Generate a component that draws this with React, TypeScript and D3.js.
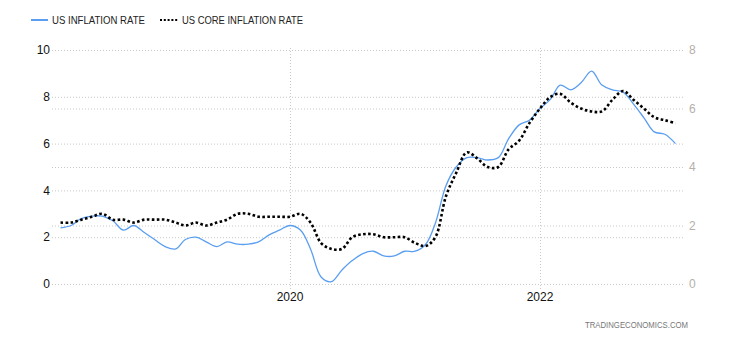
import React from "react";
import * as d3 from "d3";

const startYear = 2018;
const startMonth = 2; // March (0-based)

const inflation = [
  2.4, 2.5, 2.8, 2.9, 2.9, 2.7, 2.3, 2.5, 2.2, 1.9,
  1.6, 1.5, 1.9, 2.0, 1.8, 1.6, 1.8, 1.7, 1.7, 1.8, 2.1, 2.3,
  2.5, 2.3, 1.5, 0.3, 0.1, 0.6, 1.0, 1.3, 1.4, 1.2, 1.2, 1.4,
  1.4, 1.7, 2.6, 4.2, 5.0, 5.4, 5.4, 5.3, 5.4, 6.2, 6.8, 7.0,
  7.5, 7.9, 8.5, 8.3, 8.6, 9.1, 8.5, 8.3, 8.2, 7.7, 7.1, 6.5,
  6.4, 6.0,
];

const coreInflation = [
  2.1, 2.1, 2.2, 2.3, 2.4, 2.2, 2.2, 2.1, 2.2, 2.2,
  2.2, 2.1, 2.0, 2.1, 2.0, 2.1, 2.2, 2.4, 2.4, 2.3, 2.3, 2.3,
  2.3, 2.4, 2.1, 1.4, 1.2, 1.2, 1.6, 1.7, 1.7, 1.6, 1.6, 1.6,
  1.4, 1.3, 1.6, 3.0, 3.8, 4.5, 4.3, 4.0, 4.0, 4.6, 4.9, 5.5,
  6.0, 6.4, 6.5, 6.2, 6.0, 5.9, 5.9, 6.3, 6.6, 6.3, 6.0, 5.7,
  5.6, 5.5,
];

const leftTicks = [0, 2, 4, 6, 8, 10];
const rightTicks = [0, 2, 4, 6, 8];
const xTickYears = [2020, 2022];
const legendLabels = ["US INFLATION RATE", "US CORE INFLATION RATE"];
const watermark = "TRADINGECONOMICS.COM";

const W = 730;
const H = 340;
const BLUE = "#5a9ef0";
const font = "'Liberation Sans', Arial, sans-serif";

export default function App() {
  const dates = inflation.map((_, i) => new Date(startYear, startMonth + i, 1));
  const x = d3
    .scaleTime()
    .domain([new Date(2020, 0, 1), new Date(2022, 0, 1)])
    .range([290, 540]);
  const yL = d3.scaleLinear().domain([0, 10]).range([284, 50]);
  const yR = d3.scaleLinear().domain([0, 8]).range([284, 50]);

  const gridX0 = 52;
  const gridX1 = 685;

  const lineL = d3
    .line<number>()
    .x((_, i) => x(dates[i]))
    .y((d) => yL(d))
    .curve(d3.curveCatmullRom.alpha(0.5));
  const lineR = d3
    .line<number>()
    .x((_, i) => x(dates[i]))
    .y((d) => yR(d))
    .curve(d3.curveCatmullRom.alpha(0.5));

  return (
    <svg
      width={W}
      height={H}
      style={{ position: "absolute", left: 0, top: 0, background: "#fff" }}
      fontFamily={font}
    >
      {leftTicks.map((t) => (
        <line
          key={"gl" + t}
          x1={gridX0}
          x2={gridX1}
          y1={yL(t) + 0.5}
          y2={yL(t) + 0.5}
          stroke="#c8c8c8"
          strokeDasharray="1,2"
        />
      ))}
      {rightTicks.map((t) => (
        <line
          key={"gr" + t}
          x1={gridX0}
          x2={gridX1}
          y1={yR(t) + 0.5}
          y2={yR(t) + 0.5}
          stroke="#c8c8c8"
          strokeDasharray="1,2"
        />
      ))}
      {xTickYears.map((yr) => (
        <line
          key={"vx" + yr}
          x1={x(new Date(yr, 0, 1)) + 0.5}
          x2={x(new Date(yr, 0, 1)) + 0.5}
          y1={48}
          y2={290}
          stroke="#c8c8c8"
          strokeDasharray="1,2"
        />
      ))}
      {leftTicks.map((t) => (
        <text
          key={"tl" + t}
          x={50}
          y={yL(t)}
          dy="0.35em"
          textAnchor="end"
          fontSize={12}
          fill="#111"
        >
          {t}
        </text>
      ))}
      {rightTicks.map((t) => (
        <text
          key={"tr" + t}
          x={689}
          y={yR(t)}
          dy="0.35em"
          textAnchor="start"
          fontSize={12}
          fill="#b4b0aa"
        >
          {t}
        </text>
      ))}
      {xTickYears.map((yr) => (
        <text
          key={"xl" + yr}
          x={x(new Date(yr, 0, 1))}
          y={301}
          textAnchor="middle"
          fontSize={12}
          fill="#111"
        >
          {yr}
        </text>
      ))}
      <path d={lineL(inflation) || ""} fill="none" stroke={BLUE} strokeWidth={1.3} />
      <path
        d={lineR(coreInflation) || ""}
        fill="none"
        stroke="#000"
        strokeWidth={2.6}
        strokeDasharray="2.6,2.4"
      />
      <line x1={31} x2={48} y1={20} y2={20} stroke={BLUE} strokeWidth={2} />
      <text
        x={52}
        y={20}
        dy="0.35em"
        fontSize={10.5}
        fill="#222"
        textLength={93}
        lengthAdjust="spacingAndGlyphs"
      >
        {legendLabels[0]}
      </text>
      <line
        x1={160}
        x2={179}
        y1={20}
        y2={20}
        stroke="#000"
        strokeWidth={2}
        strokeDasharray="2,1.8"
      />
      <text
        x={182}
        y={20}
        dy="0.35em"
        fontSize={10.5}
        fill="#222"
        textLength={121}
        lengthAdjust="spacingAndGlyphs"
      >
        {legendLabels[1]}
      </text>
      <text
        x={688}
        y={325}
        dy="0.35em"
        textAnchor="end"
        fontSize={8.2}
        fill="#777"
        textLength={103}
        lengthAdjust="spacingAndGlyphs"
      >
        {watermark}
      </text>
    </svg>
  );
}
